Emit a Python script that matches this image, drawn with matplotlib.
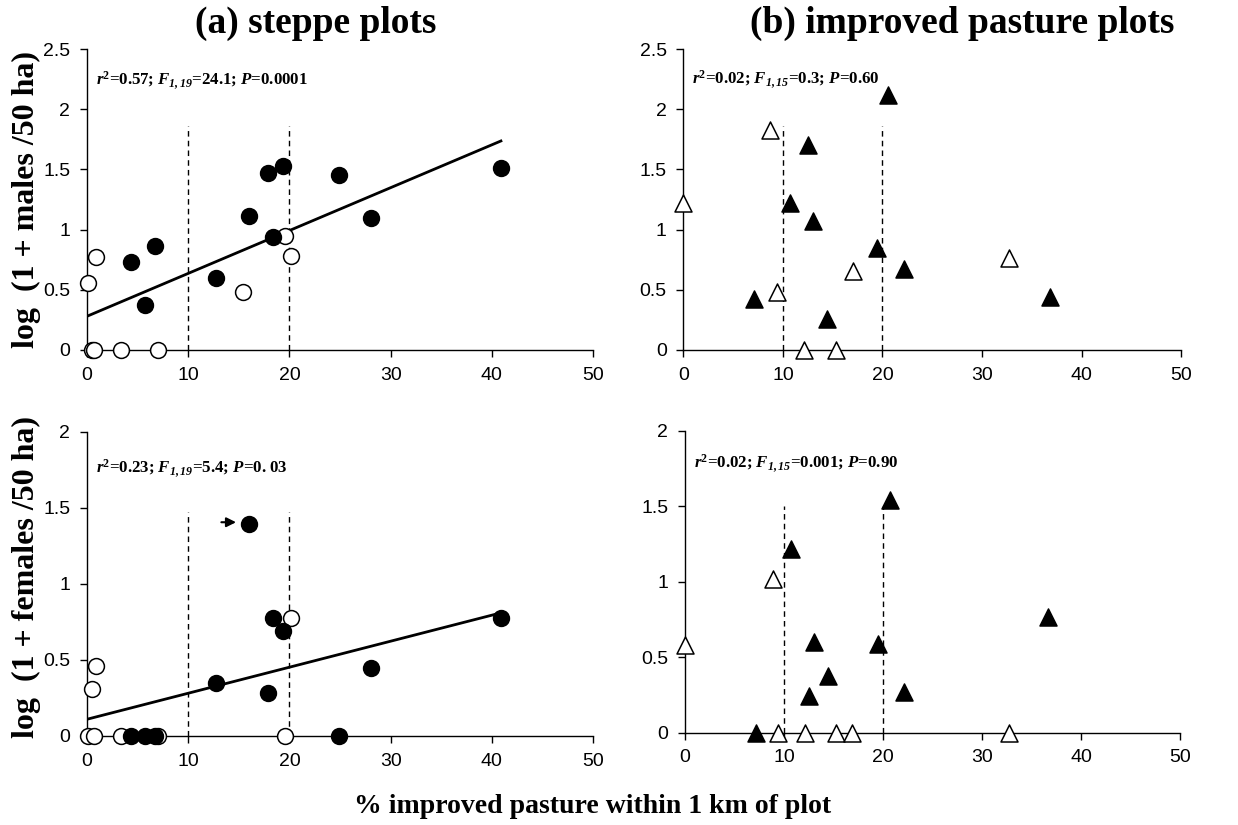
import matplotlib
matplotlib.use('Agg')
import matplotlib.pyplot as plt
import numpy as np

# ---- data ----
# (a) steppe plots, males
steppe_m_filled_x = [4.3, 5.7, 6.7, 12.7, 16.0, 17.9, 18.4, 19.4, 24.9, 28.1, 40.9]
steppe_m_filled_y = [0.73, 0.37, 0.86, 0.60, 1.11, 1.47, 0.94, 1.53, 1.45, 1.10, 1.51]
steppe_m_open_x = [0.1, 0.9, 0.5, 0.7, 3.4, 7.0, 15.4, 19.6, 20.2]
steppe_m_open_y = [0.56, 0.77, 0.0, 0.0, 0.0, 0.0, 0.48, 0.95, 0.78]
steppe_m_fit = (0.28, 0.0356)  # intercept, slope

# (a) steppe plots, females
steppe_f_filled_x = [16.0, 18.4, 19.4, 12.7, 17.9, 28.1, 40.9, 4.3, 5.7, 6.7, 24.9]
steppe_f_filled_y = [1.395, 0.775, 0.69, 0.345, 0.285, 0.45, 0.775, 0.0, 0.0, 0.0, 0.0]
steppe_f_open_x = [0.9, 0.5, 0.1, 0.7, 3.4, 7.0, 19.6, 20.2]
steppe_f_open_y = [0.46, 0.31, 0.0, 0.0, 0.0, 0.0, 0.0, 0.775]
steppe_f_fit = (0.11, 0.0171)

# (b) improved pasture plots, males
past_m_filled_x = [20.6, 12.5, 10.7, 13.0, 19.5, 22.2, 7.1, 14.4, 36.8]
past_m_filled_y = [2.12, 1.70, 1.22, 1.07, 0.85, 0.67, 0.42, 0.26, 0.44]
past_m_open_x = [0.0, 8.7, 9.4, 17.0, 32.7, 12.1, 15.3]
past_m_open_y = [1.22, 1.83, 0.48, 0.66, 0.76, 0.0, 0.0]

# (b) improved pasture plots, females
past_f_filled_x = [20.7, 10.7, 13.0, 19.5, 14.4, 12.5, 22.1, 36.7, 7.2]
past_f_filled_y = [1.54, 1.22, 0.60, 0.59, 0.376, 0.243, 0.272, 0.765, 0.0]
past_f_open_x = [0.0, 8.9, 9.4, 12.1, 15.3, 16.9, 32.7]
past_f_open_y = [0.58, 1.02, 0.0, 0.0, 0.0, 0.0, 0.0]

stats_text = [
    r'$\mathbfit{r}^{\mathbf{2}}$=0.57; $\mathbfit{F}_{\mathbfit{1,19}}$=24.1; $\mathbfit{P}$=0.0001',
    r'$\mathbfit{r}^{\mathbf{2}}$=0.02; $\mathbfit{F}_{\mathbfit{1,15}}$=0.3; $\mathbfit{P}$=0.60',
    r'$\mathbfit{r}^{\mathbf{2}}$=0.23; $\mathbfit{F}_{\mathbfit{1,19}}$=5.4; $\mathbfit{P}$=0. 03',
    r'$\mathbfit{r}^{\mathbf{2}}$=0.02; $\mathbfit{F}_{\mathbfit{1,15}}$=0.001; $\mathbfit{P}$=0.90',
]

plt.rcParams['mathtext.fontset'] = 'custom'
plt.rcParams['mathtext.rm'] = 'Liberation Serif'
plt.rcParams['mathtext.it'] = 'Liberation Serif:italic'
plt.rcParams['mathtext.bf'] = 'Liberation Serif:bold'
plt.rcParams['mathtext.bfit'] = 'Liberation Serif:bold:italic'

serif = 'Liberation Serif'
sans = 'Liberation Sans'

fig = plt.figure(figsize=(12.38, 8.25), dpi=100)
ax_tl = fig.add_axes([0.0703, 0.5758, 0.4087, 0.3648])
ax_tr = fig.add_axes([0.5520, 0.5758, 0.4020, 0.3648])
ax_bl = fig.add_axes([0.0703, 0.1079, 0.4087, 0.3688])
ax_br = fig.add_axes([0.5533, 0.1119, 0.3998, 0.3657])


def style(ax, ymax, ystep, vtop):
    ax.set_xlim(0, 50)
    ax.set_ylim(0, ymax)
    ax.set_xticks(np.arange(0, 51, 10))
    yt = np.arange(0, ymax + 1e-9, ystep)
    ax.set_yticks(yt)
    ax.set_yticklabels(['%g' % v for v in yt])
    for s in ['top', 'right']:
        ax.spines[s].set_visible(False)
    for s in ['left', 'bottom']:
        ax.spines[s].set_linewidth(1.0)
    ax.tick_params(direction='out', length=5, width=1.0, labelsize=14, pad=7)
    for lab in ax.get_xticklabels() + ax.get_yticklabels():
        lab.set_fontfamily(sans)
    for xv in [10, 20]:
        ax.plot([xv, xv], [0, vtop], ls=(0, (4, 3)), color='black', lw=1.0)


style(ax_tl, 2.5, 0.5, 1.86)
style(ax_tr, 2.5, 0.5, 1.86)
style(ax_bl, 2.0, 0.5, 1.47)
style(ax_br, 2.0, 0.5, 1.50)

circ = dict(marker='o', s=130, clip_on=False, zorder=3, linewidths=1.1)
tri = dict(marker='^', s=150, clip_on=False, zorder=3, linewidths=1.1)

ax_tl.scatter(steppe_m_open_x, steppe_m_open_y, facecolor='white', edgecolor='black', **circ)
ax_tl.scatter(steppe_m_filled_x, steppe_m_filled_y, facecolor='black', edgecolor='black', **circ)
xs = np.array([0, 40.9])
ax_tl.plot(xs, steppe_m_fit[0] + steppe_m_fit[1] * xs, color='black', lw=2, zorder=2)

ax_bl.scatter(steppe_f_open_x, steppe_f_open_y, facecolor='white', edgecolor='black', **circ)
ax_bl.scatter(steppe_f_filled_x, steppe_f_filled_y, facecolor='black', edgecolor='black', **circ)
ax_bl.plot(xs, steppe_f_fit[0] + steppe_f_fit[1] * xs, color='black', lw=2, zorder=2)
ax_bl.annotate('', xy=(15.0, 1.405), xytext=(13.0, 1.405),
               arrowprops=dict(arrowstyle='-|>', color='black', lw=1.5, mutation_scale=14))

ax_tr.scatter(past_m_open_x, past_m_open_y, facecolor='white', edgecolor='black', **tri)
ax_tr.scatter(past_m_filled_x, past_m_filled_y, facecolor='black', edgecolor='black', **tri)
ax_br.scatter(past_f_open_x, past_f_open_y, facecolor='white', edgecolor='black', **tri)
ax_br.scatter(past_f_filled_x, past_f_filled_y, facecolor='black', edgecolor='black', **tri)

for ax, txt, yy in zip([ax_tl, ax_tr, ax_bl, ax_br], stats_text, [0.897, 0.90, 0.88, 0.894]):
    ax.text(0.018, yy, txt, transform=ax.transAxes, fontsize=12.2, color='black',
            fontfamily=serif, fontweight='bold', va='center', ha='left')

fig.text(0.255, 0.972, '(a) steppe plots', fontsize=27, fontweight='bold',
         fontfamily=serif, ha='center', va='center')
fig.text(0.777, 0.972, '(b) improved pasture plots', fontsize=27, fontweight='bold',
         fontfamily=serif, ha='center', va='center')
fig.text(0.021, 0.758, 'log  (1 + males /50 ha)', fontsize=23, fontweight='bold',
         fontfamily=serif, ha='center', va='center', rotation=90)
fig.text(0.021, 0.30, 'log  (1 + females /50 ha)', fontsize=23, fontweight='bold',
         fontfamily=serif, ha='center', va='center', rotation=90)
fig.text(0.479, 0.022, '% improved pasture within 1 km of plot', fontsize=20,
         fontweight='bold', fontfamily=serif, ha='center', va='center')

fig.savefig('out.png', dpi=100, facecolor='white')
